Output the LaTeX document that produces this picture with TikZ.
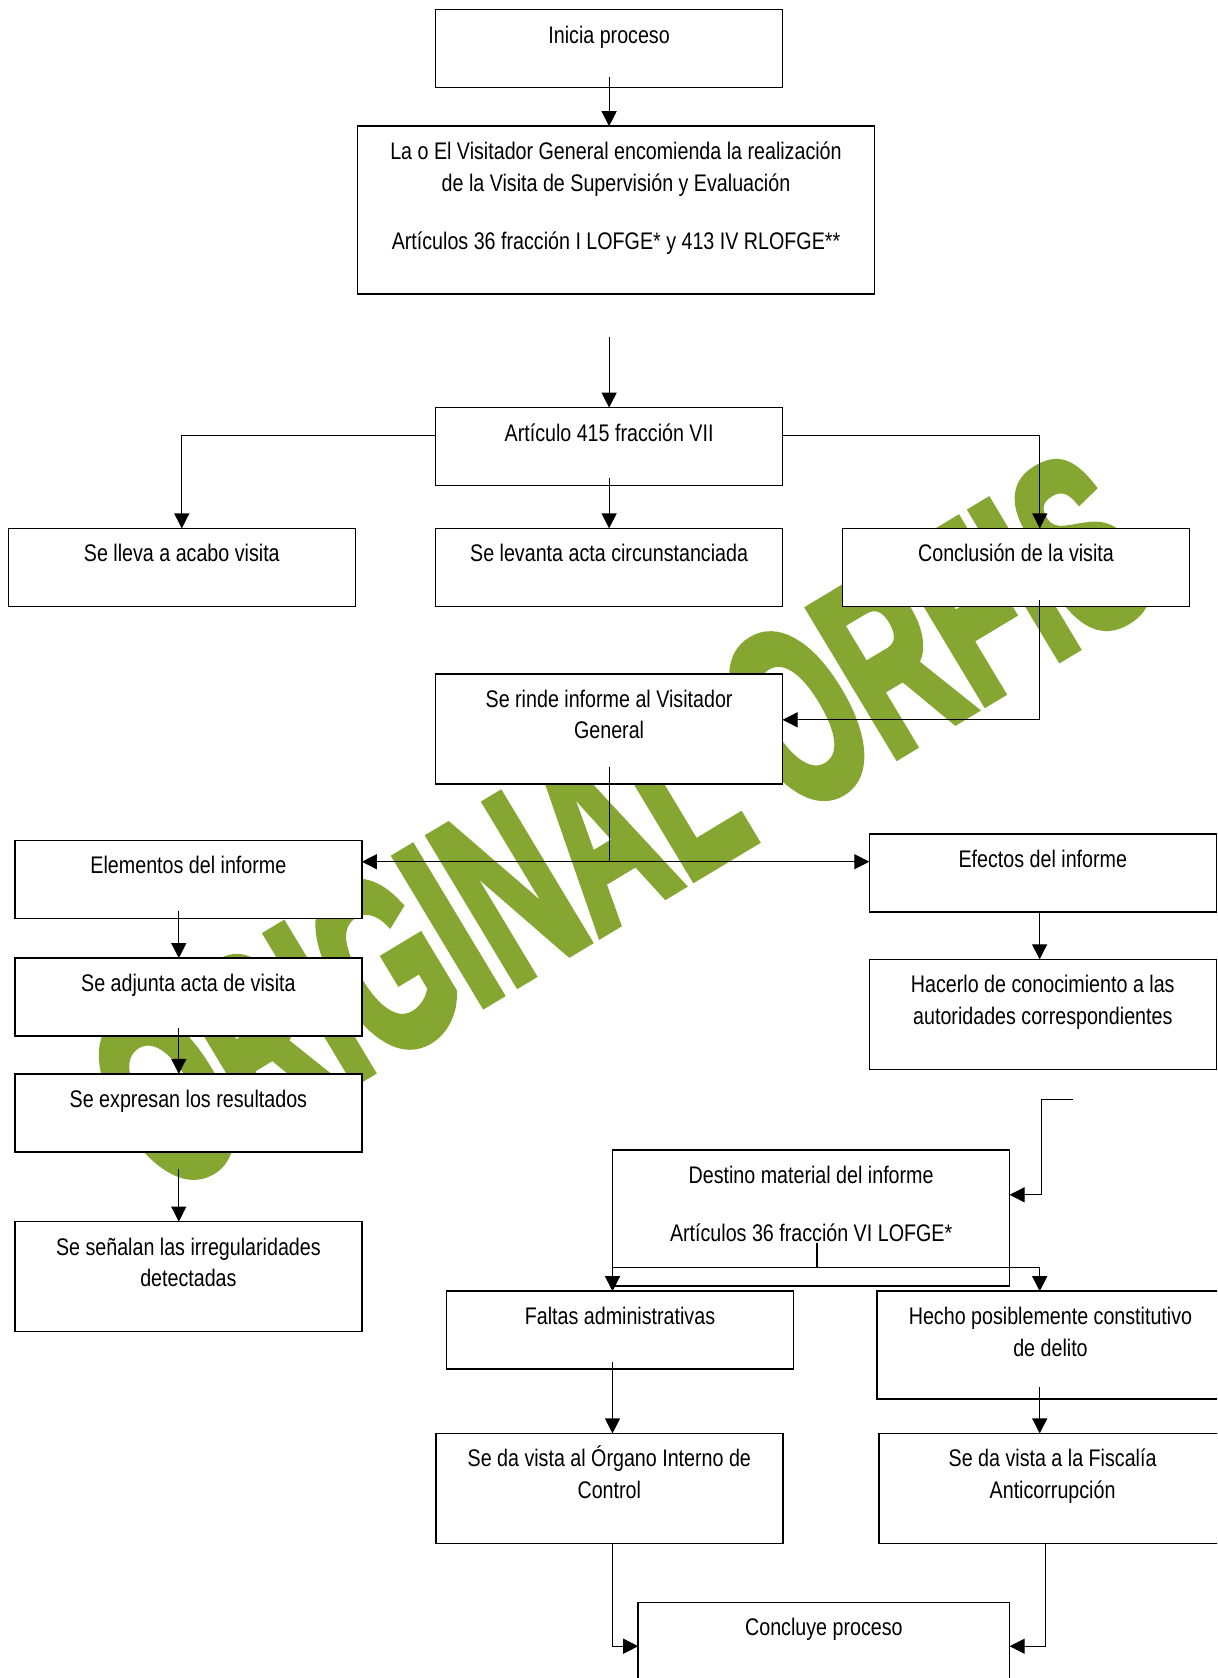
\documentclass[tikz,border=0pt]{standalone}
\usepackage{fontspec}
\setmainfont[FakeStretch=0.82]{Liberation Sans}
\newfontfamily\wmfont[FakeBold=4]{Liberation Sans}
\usepackage{graphicx}
\usetikzlibrary{arrows.meta,positioning}
\definecolor{verde}{HTML}{86A632}
\newcommand{\fs}{\fontsize{12}{15.8}\selectfont}
\tikzset{
  >={Triangle[length=7.5pt,width=7.5pt]},
  box/.style={draw,fill=white,line width=0.75pt,inner sep=0pt,outer sep=0pt,align=flush center,font=\fs,
    text width=173.5pt,text height=16.7pt,text depth=22.3pt},
  tbox/.style={box,text depth=38.3pt},
  arr/.style={->,line width=0.6pt},
  lin/.style={line width=0.6pt},
}

\begin{document}
\begin{tikzpicture}[x=0.5pt,y=-0.5pt]
\clip (0,0) rectangle (1217,1678);
% marca de agua
\node[text=verde,rotate=31,inner sep=0pt] (marca) at (621,822) {\resizebox{585pt}{86pt}{\wmfont\bfseries ORIGINAL ORFIS}};

\node[box] (inicio) at (609.1,48.7) {Inicia proceso};
\node[box,text width=258.5pt,text depth=67.3pt,below=19.25pt of inicio,xshift=3.45pt] (encarga)
  {La o El Visitador General encomienda la realización\\de la Visita de Supervisión y Evaluación\\[13.5pt]Artículos 36 fracción I LOFGE* y 413 IV RLOFGE**};
\node[box,below=56.7pt of encarga,xshift=-3.45pt] (art) {Artículo 415 fracción VII};
\node[box,below=21.4pt of art] (levanta) {Se levanta acta circunstanciada};
\node[box,left=40.15pt of levanta] (lleva) {Se lleva a acabo visita};
\node[box,right=29.95pt of levanta] (conclusion) {Conclusión de la visita};
\node[tbox,below=33.7pt of levanta] (rinde) {Se rinde informe al Visitador\\General};

\node[box,below=28.35pt of rinde,xshift=-210.35pt] (elementos) {Elementos del informe};
\node[box,right=253.7pt of elementos,yshift=3.2pt] (efectos) {Efectos del informe};
\node[box,below=19.8pt of elementos] (adjunta) {Se adjunta acta de visita};
\node[box,below=18.9pt of adjunta] (expresan) {Se expresan los resultados};
\node[tbox,below=34.85pt of expresan] (senalan) {Se señalan las irregularidades\\detectadas};
\node[tbox,below=23.6pt of efectos] (hacerlo) {Hacerlo de conocimiento a las\\autoridades correspondientes};

\node[box,text width=198.5pt,text depth=51.3pt,below=40.3pt of hacerlo,xshift=-115.85pt] (destino)
  {Destino material del informe\\[13.5pt]Artículos 36 fracción VI LOFGE*};
\node[box,below=2.65pt of destino,xshift=-95.55pt] (faltas) {Faltas administrativas};
\node[box,text depth=37.3pt,right=41.75pt of faltas.north east,anchor=north west] (hecho)
  {Hecho posiblemente constitutivo\\de delito};
\node[tbox,below=32.1pt of faltas,xshift=-5.35pt] (organo) {Se da vista al Órgano Interno de\\Control};
\node[tbox,right=48.15pt of organo] (fiscalia) {Se da vista a la Fiscalía\\Anticorrupción};
\node[tbox,text width=185.7pt,below=29.5pt of organo,xshift=107.3pt] (concluye) {Concluye proceso};

% conectores
\draw[arr] ([yshift=5.4pt]inicio.south) -- (inicio.south |- encarga.north);
\draw[arr] ([yshift=-21.3pt]encarga.south -| art.north) -- (art.north);
\draw[arr] ([yshift=5.7pt]art.west) -| (lleva.north);
\draw[arr] ([yshift=3.75pt]art.south) -- (levanta.north);
\draw[arr] ([yshift=5.7pt]art.east) -| ([xshift=11.9pt]conclusion.north);
\draw[arr] ([xshift=11.9pt,yshift=3.2pt]conclusion.south) |- ([yshift=4.5pt]rinde.east);

\coordinate (split) at ([yshift=8.9pt]elementos.east -| rinde.south);
\draw[lin] ([yshift=8.6pt]rinde.south) -- (split);
\draw[arr] (split) -- ([yshift=8.9pt]elementos.east);
\draw[arr] (split) -- (split -| efectos.west);

\draw[arr] ([xshift=-4.8pt,yshift=3.7pt]elementos.south) -- ([xshift=-4.8pt]adjunta.north);
\draw[arr] ([xshift=-4.8pt,yshift=4.15pt]adjunta.south) -- ([xshift=-4.8pt]expresan.north);
\draw[arr] ([xshift=-4.8pt,yshift=-8.6pt]expresan.south) -- ([xshift=-4.8pt]senalan.north);
\draw[arr] ([xshift=-1.6pt]efectos.south) -- ([xshift=-1.6pt]hacerlo.north);

\coordinate (suelto) at ([xshift=14.95pt,yshift=-15.15pt]hacerlo.south);
\draw[arr] (suelto) -- ++(-15.5pt,0pt) |- ([yshift=11.55pt]destino.east);

\coordinate (reparto) at ([xshift=2.9pt,yshift=9.1pt]destino.south);
\draw[lin] ([xshift=2.9pt,yshift=-12.6pt]destino.center) -- (reparto);
\draw[arr] (reparto) -| ([xshift=-3.75pt]faltas.north);
\draw[arr] (reparto) -| ([xshift=-5.4pt]hecho.north);

\draw[arr] ([xshift=-3.75pt,yshift=3.75pt]faltas.south) -- ([xshift=-3.75pt]faltas.south |- organo.north);
\draw[arr] ([xshift=-5.4pt,yshift=6.35pt]hecho.south) -- ([xshift=-5.4pt]hecho.south |- fiscalia.north);
\draw[arr] ([xshift=1.6pt]organo.south) |- ([yshift=-21.9pt]concluye.north west);
\draw[arr] ([xshift=-3.75pt]fiscalia.south) |- ([yshift=-21.9pt]concluye.north east);
\end{tikzpicture}
\end{document}
